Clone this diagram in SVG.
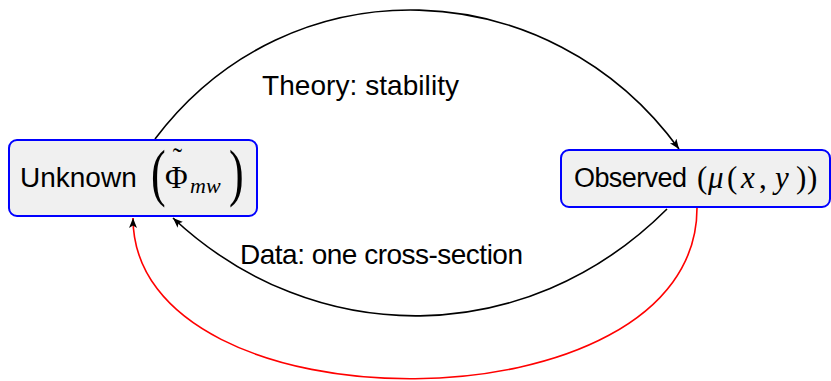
<svg xmlns="http://www.w3.org/2000/svg" width="831" height="381" viewBox="0 0 831 381">
<style>
.box{fill:#f0f0f0;stroke:#0000ff;stroke-width:2}
.sans{font-family:"Liberation Sans",Arial,sans-serif;fill:#000}
.ser{font-family:"Liberation Serif","Times New Roman",serif;fill:#000}
.it{font-style:italic}
.edge{fill:none;stroke-width:1.6}
</style>
<defs>
<marker id="arr" markerUnits="userSpaceOnUse" markerWidth="12" markerHeight="10" refX="10" refY="4" orient="auto">
<path d="M0,0 L10,4 L0,8 L2.5,4 Z" fill="#000"/>
</marker>
</defs>
<g id="connectors">
<path class="edge" stroke="#000" d="M155,139 C290,-40 550,-29 679,149" marker-end="url(#arr)"/>
<path class="edge" stroke="#000" d="M667,209 C526,350 314,350 173,218" marker-end="url(#arr)"/>
<path class="edge" stroke="#ff0000" d="M697,208 C697,434 133,434 133,218" marker-end="url(#arr)"/>
<text class="sans" x="262" y="95" font-size="28" textLength="197" lengthAdjust="spacing">Theory: stability</text>
<text class="sans" x="240" y="264" font-size="28" textLength="283" lengthAdjust="spacing">Data: one cross-section</text>
</g>
<g id="unknown">
<rect class="box" x="9" y="140" width="248" height="76" rx="8"/>
<text class="sans" x="20" y="187" font-size="28">Unknown</text>
<text class="ser" transform="translate(151,194) scale(0.7,1)" font-size="63">(</text>
<text class="ser" x="165" y="188" font-size="31">Φ</text>
<text class="ser" x="177.5" y="167" font-size="28" text-anchor="middle">˜</text>
<text class="ser it" x="190" y="193" font-size="22">mw</text>
<text class="ser" transform="translate(229,194) scale(0.7,1)" font-size="63">)</text>
</g>
<g id="observed">
<rect class="box" x="561" y="150" width="269" height="57" rx="8"/>
<text class="sans" x="574" y="187" font-size="27" textLength="113" lengthAdjust="spacing">Observed</text>
<text class="ser" y="188" font-size="31"><tspan x="697">(</tspan><tspan x="708" class="it">μ</tspan><tspan x="727">(</tspan><tspan x="741" class="it">x</tspan><tspan x="759">,</tspan><tspan x="775" class="it">y</tspan><tspan x="796">)</tspan><tspan x="807">)</tspan></text>
</g>
</svg>
